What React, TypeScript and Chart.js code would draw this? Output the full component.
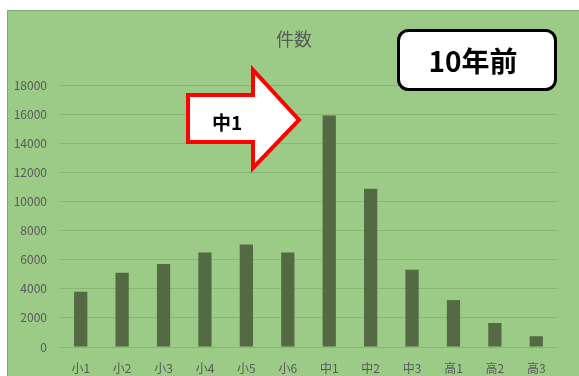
import React, { useEffect, useRef } from "react";
import { Chart, registerables } from "chart.js";

Chart.register(...registerables);

const categories = ["小1", "小2", "小3", "小4", "小5", "小6", "中1", "中2", "中3", "高1", "高2", "高3"];
const counts = [3800, 5100, 5700, 6500, 7050, 6500, 15900, 10870, 5300, 3220, 1650, 740];
const yTicks = [0, 2000, 4000, 6000, 8000, 10000, 12000, 14000, 16000, 18000];
const titleText = "件数";
const badgeText = "10年前";
const arrowText = "中1";

const FONT = "'Noto Sans CJK JP', 'Noto Sans', sans-serif";

const decorPlugin = {
  id: "decor",
  afterDraw(chart: any) {
    const ctx = chart.ctx;
    ctx.save();
    // title
    ctx.fillStyle = "#595959";
    ctx.font = `18px ${FONT}`;
    ctx.textAlign = "center";
    ctx.textBaseline = "middle";
    ctx.fillText(titleText, 286, 28);

    // badge
    const x0 = 390.5, y0 = 19.5, x1 = 547.5, y1 = 78.5, r = 10;
    ctx.beginPath();
    ctx.moveTo(x0 + r, y0);
    ctx.lineTo(x1 - r, y0);
    ctx.arcTo(x1, y0, x1, y0 + r, r);
    ctx.lineTo(x1, y1 - r);
    ctx.arcTo(x1, y1, x1 - r, y1, r);
    ctx.lineTo(x0 + r, y1);
    ctx.arcTo(x0, y1, x0, y1 - r, r);
    ctx.lineTo(x0, y0 + r);
    ctx.arcTo(x0, y0, x0 + r, y0, r);
    ctx.closePath();
    ctx.fillStyle = "#ffffff";
    ctx.fill();
    ctx.lineWidth = 3;
    ctx.strokeStyle = "#000000";
    ctx.stroke();
    ctx.fillStyle = "#000000";
    ctx.font = `bold 28px ${FONT}`;
    ctx.fillText(badgeText, (x0 + x1) / 2 - 4, (y0 + y1) / 2 + 1);

    // arrow
    ctx.beginPath();
    ctx.moveTo(180, 84);
    ctx.lineTo(245, 84);
    ctx.lineTo(245, 59);
    ctx.lineTo(291, 109);
    ctx.lineTo(245, 157);
    ctx.lineTo(245, 131);
    ctx.lineTo(180, 131);
    ctx.closePath();
    ctx.fillStyle = "#ffffff";
    ctx.fill();
    ctx.lineWidth = 4;
    ctx.lineJoin = "miter";
    ctx.strokeStyle = "#ff0000";
    ctx.stroke();
    ctx.fillStyle = "#000000";
    ctx.font = `bold 19px ${FONT}`;
    ctx.fillText(arrowText, 219, 112);
    ctx.restore();
  },
};

export default function App() {
  const ref = useRef<HTMLCanvasElement>(null);
  useEffect(() => {
    if (!ref.current) return;
    const chart = new Chart(ref.current, {
      type: "bar",
      data: {
        labels: categories,
        datasets: [
          {
            data: counts,
            backgroundColor: "#536A42",
            categoryPercentage: 1,
            barPercentage: 0.32,
          },
        ],
      },
      options: {
        animation: false,
        responsive: false,
        maintainAspectRatio: false,
        layout: { padding: { left: 0, right: 22, top: 74, bottom: 0 } },
        plugins: { legend: { display: false }, tooltip: { enabled: false }, title: { display: false } },
        scales: {
          x: {
            grid: { display: false, drawTicks: false },
            border: { display: false },
            ticks: { color: "#595959", font: { size: 12, family: FONT }, padding: 14, maxRotation: 0 },
            afterFit: (s: any) => { s.height = 29; },
          },
          y: {
            min: 0,
            max: 18000,
            afterBuildTicks: (s: any) => { s.ticks = yTicks.map((v) => ({ value: v })); },
            grid: { color: "#86B670", lineWidth: 1, drawTicks: false },
            border: { display: false },
            ticks: {
              color: "#595959",
              font: { size: 12, family: FONT },
              padding: 13,
              callback: (v: any) => String(v),
            },
            afterFit: (s: any) => { s.width = 52; },
          },
        },
      },
      plugins: [decorPlugin],
    });
    return () => chart.destroy();
  }, []);

  return (
    <div style={{ position: "fixed", left: 0, top: 0, width: 579, height: 376, background: "#ffffff" }}>
      <div
        style={{
          position: "absolute",
          left: 7,
          top: 10,
          width: 571,
          height: 365,
          background: "#9BCB86",
          borderTop: "1px solid #7DAA68",
          borderLeft: "1px solid #7DAA68",
        }}
      >
        <canvas ref={ref} width={571} height={365} style={{ display: "block" }} />
      </div>
    </div>
  );
}
